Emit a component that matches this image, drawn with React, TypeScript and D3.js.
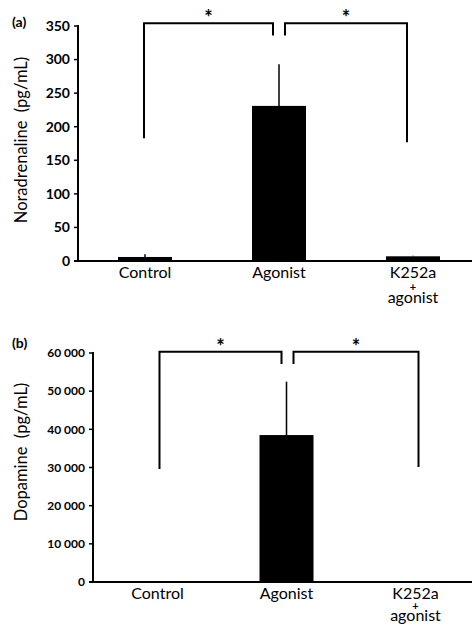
import React from "react";
import * as d3 from "d3";

// categories shared by both panels
const categories = ["Control", "Agonist", "K252a + agonist"];
const categoryLines = [["Control"], ["Agonist"], ["K252a", "+", "agonist"]];

// panel (a) noradrenaline
const noradMeans = [6, 231, 7];
const noradErrors = [4, 62, 1];
const noradTicks = [0, 50, 100, 150, 200, 250, 300, 350];
const noradBrackets = [
  { from: 0, to: 1, top: 354, leftEnd: 183, rightEnd: 336 },
  { from: 1, to: 2, top: 354, leftEnd: 336, rightEnd: 177 },
];

// panel (b) dopamine
const dopaMeans = [200, 38500, 200];
const dopaErrors = [0, 14000, 0];
const dopaTicks = [0, 10000, 20000, 30000, 40000, 50000, 60000];
const dopaBrackets = [
  { from: 0, to: 1, top: 60300, leftEnd: 29600, rightEnd: 57100 },
  { from: 1, to: 2, top: 60300, leftEnd: 57100, rightEnd: 30100 },
];

const font = "Lato, 'Open Sans', sans-serif";
const fmtSpace = (v) => d3.format(",")(v).replace(/,/g, " ");

function Panel({
  tag, yLabel, means, errors, ticks, brackets, tickFmt, tickSize,
  axisX, yTop, yBottom, yMax, bracketOffsets, labelY, lineGap, tagY, yLabelY,
}) {
  const x = d3.scalePoint().domain(categories).range([axisX, 480]).padding(0.5);
  const y = d3.scaleLinear().domain([0, yMax]).range([yBottom, yTop]);
  const barW = 54;
  return (
    <g>
      <text x={12} y={tagY} fontFamily={font} fontWeight="bold" fontSize={14}>{tag}</text>
      <text
        transform={`translate(27,${yLabelY}) rotate(-90)`}
        textAnchor="middle" fontFamily={font} fontSize={16.5} style={{ whiteSpace: "pre" }}
      >{yLabel}</text>
      {/* bars */}
      {means.map((m, i) => (
        <rect key={i} x={x(categories[i]) - barW / 2} y={y(m)} width={barW}
          height={yBottom - y(m)} fill="#000" />
      ))}
      {/* error bars, upward only */}
      {means.map((m, i) => errors[i] > 0 ? (
        <line key={i} x1={x(categories[i])} x2={x(categories[i])} y1={y(m)}
          y2={y(m + errors[i])} stroke="#000" strokeWidth={1.5} />
      ) : null)}
      {/* axes */}
      <line x1={axisX} x2={axisX} y1={yTop - 1} y2={yBottom + 1} stroke="#000" strokeWidth={2} />
      <line x1={axisX - 4} x2={472} y1={yBottom} y2={yBottom} stroke="#000" strokeWidth={2} />
      {ticks.map((t) => (
        <g key={t}>
          <line x1={axisX - 4} x2={axisX} y1={y(t)} y2={y(t)} stroke="#000" strokeWidth={1.5} />
          <text x={axisX - 8} y={y(t)} dy="0.35em" textAnchor="end" fontFamily={font}
            fontWeight="bold" fontSize={tickSize}>{tickFmt(t)}</text>
        </g>
      ))}
      {/* category labels */}
      {categoryLines.map((lines, i) => lines.map((l, j) => (
        <text key={`${i}-${j}`} x={x(categories[i])} y={labelY + j * lineGap}
          textAnchor="middle" fontFamily={font} fontWeight={l === "+" ? "bold" : "normal"}
          fontSize={l === "+" ? 11 : 16}>{l}</text>
      )))}
      {/* significance brackets */}
      {brackets.map((b, i) => {
        const x1 = x(categories[b.from]) + bracketOffsets[i][0];
        const x2 = x(categories[b.to]) + bracketOffsets[i][1];
        const path = d3.path();
        path.moveTo(x1, y(b.leftEnd));
        path.lineTo(x1, y(b.top));
        path.lineTo(x2, y(b.top));
        path.lineTo(x2, y(b.rightEnd));
        return (
          <g key={i}>
            <path d={path.toString()} fill="none" stroke="#000" strokeWidth={2} />
            <text x={(x1 + x2) / 2} y={y(b.top) + 2} textAnchor="middle" fontFamily={font}
              fontWeight="bold" fontSize={20}>*</text>
          </g>
        );
      })}
    </g>
  );
}

export default function App() {
  return (
    <svg width={472} height={626} style={{ position: "absolute", left: 0, top: 0, background: "#fff" }}>
      <Panel tag="(a)" yLabel="Noradrenaline  (pg/mL)" means={noradMeans} errors={noradErrors}
        ticks={noradTicks} brackets={noradBrackets} tickFmt={(v) => String(v)} tickSize={14}
        axisX={78} yTop={26} yBottom={261} yMax={350}
        bracketOffsets={[[-1, -6], [6, -6]]} labelY={278} lineGap={12.5} tagY={27} yLabelY={140} />
      <Panel tag="(b)" yLabel="Dopamine  (pg/mL)" means={dopaMeans} errors={dopaErrors}
        ticks={dopaTicks} brackets={dopaBrackets} tickFmt={fmtSpace} tickSize={12}
        axisX={93} yTop={353} yBottom={582} yMax={60000}
        bracketOffsets={[[2, -5], [7, 3]]} labelY={599} lineGap={11} tagY={348} yLabelY={452} />
    </svg>
  );
}
